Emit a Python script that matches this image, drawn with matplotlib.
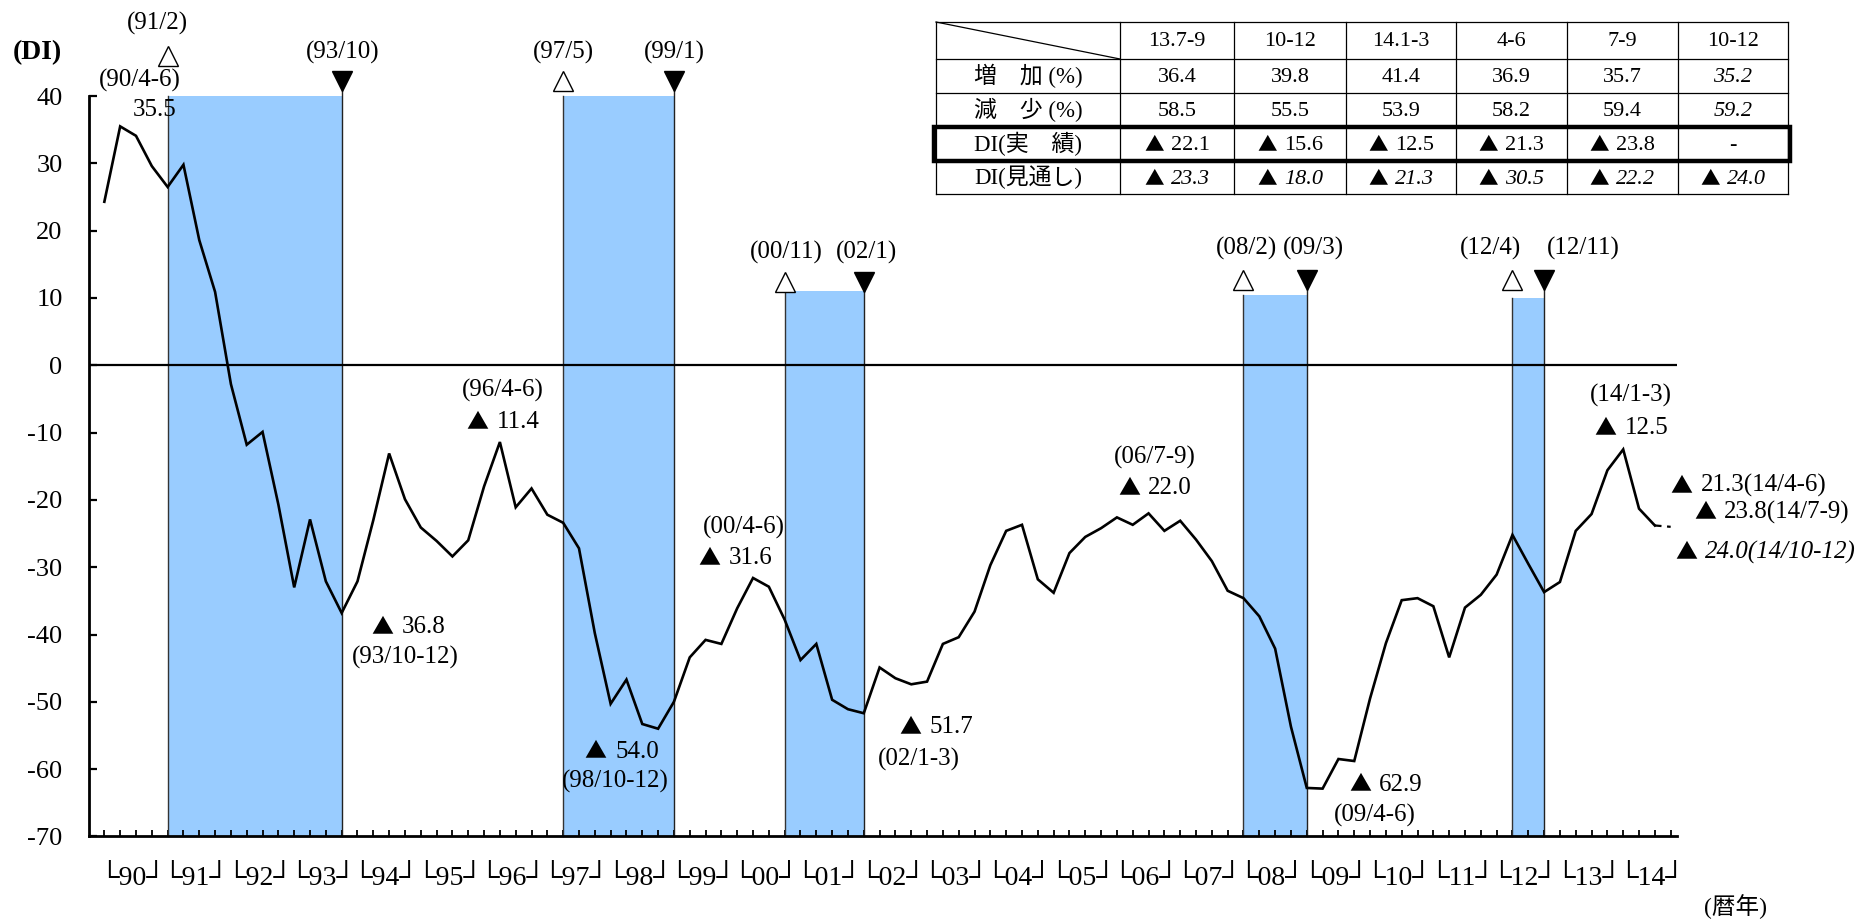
import matplotlib
matplotlib.use("Agg")
import matplotlib.pyplot as plt
import matplotlib.transforms as mtransforms
from matplotlib.patches import Rectangle
from matplotlib.offsetbox import TextArea, HPacker, AnnotationBbox

SERIF = ['Liberation Serif', 'Noto Sans CJK JP', 'DejaVu Sans']
plt.rcParams['font.family'] = SERIF
plt.rcParams['axes.unicode_minus'] = False

# ---------------- data ----------------
start_year = 1990
# quarterly DI, 1990 Q1 .. 2014 Q3 (actual)
di_actual = [
    24.3, 35.5, 34.1, 29.6,            # 1990
    26.5, 29.8, 18.6, 10.9,            # 1991
    -2.8, -11.8, -9.9, -20.7,          # 1992
    -33.0, -22.9, -32.1, -36.8,        # 1993
    -32.1, -23.0, -13.1, -19.9,        # 1994
    -24.1, -26.1, -28.4, -26.0,        # 1995
    -18.0, -11.4, -21.1, -18.3,        # 1996
    -22.2, -23.4, -27.2, -39.8,        # 1997
    -50.3, -46.7, -53.3, -54.0,        # 1998
    -50.0, -43.4, -40.8, -41.4,        # 1999
    -36.1, -31.6, -32.9, -37.8,        # 2000
    -43.8, -41.4, -49.7, -51.1,        # 2001
    -51.7, -44.9, -46.5, -47.4,        # 2002
    -47.0, -41.4, -40.4, -36.6,        # 2003
    -29.7, -24.6, -23.7, -31.8,        # 2004
    -33.8, -27.9, -25.5, -24.2,        # 2005
    -22.6, -23.7, -22.0, -24.6,        # 2006
    -23.1, -25.9, -29.1, -33.5,        # 2007
    -34.6, -37.3, -42.1, -53.7,        # 2008
    -62.8, -62.9, -58.5, -58.8,        # 2009
    -49.5, -41.3, -34.9, -34.6,        # 2010
    -35.8, -43.4, -36.0, -34.1,        # 2011
    -31.1, -25.2, -29.5, -33.7,        # 2012
    -32.2, -24.6, -22.1, -15.6,        # 2013
    -12.5, -21.3, -23.8,               # 2014
]
di_forecast = -24.0                    # 2014 Q4 (forecast)

years = list(range(1990, 2015))
year_labels = ["└%02d┘" % (y % 100) for y in years]
quarter_months = ['1-3', '4-6', '7-9', '10-12']

# recession periods (peak / trough, year & month)
rec_start = [(1991, 2), (1997, 5), (2000, 11), (2008, 2), (2012, 4)]
rec_end = [(1993, 10), (1999, 1), (2002, 1), (2009, 3), (2012, 11)]
shade_top = [40, 40, 11, 10.5, 10]

# table
tab_cols = ['13.7-9', '10-12', '14.1-3', '4-6', '7-9', '10-12']
tab_rows = ['増　加 (%)', '減　少 (%)', 'DI(実　績)', 'DI(見通し)']
tab_increase = [36.4, 39.8, 41.4, 36.9, 35.7, 35.2]
tab_decrease = [58.5, 55.5, 53.9, 58.2, 59.4, 59.2]
tab_di_actual = [-22.1, -15.6, -12.5, -21.3, -23.8, None]
tab_di_outlook = [-23.3, -18.0, -21.3, -30.5, -22.2, -24.0]


def qidx(y, m):
    return (y - start_year) * 4 + (m - 1) // 3


def qlabel(i):
    return "(%02d/%s)" % ((start_year + i // 4) % 100, quarter_months[i % 4])


def tri_box(target, xy, v, size, suffix='', italic=False, tri_scale=0.88, sep=4):
    """Draw '▲ value' (negative value shown with a black triangle)."""
    style = 'italic' if italic else 'normal'
    parts = []
    if v < 0:
        parts.append(TextArea("▲", textprops=dict(fontsize=size * tri_scale,
                                                   family='Noto Sans CJK JP')))
        txt = "%.1f%s" % (abs(v), suffix)
    else:
        txt = "%.1f%s" % (v, suffix)
    parts.append(TextArea(txt, textprops=dict(fontsize=size, family=SERIF, style=style)))
    box = HPacker(children=parts, align='baseline', pad=0, sep=sep)
    ab = AnnotationBbox(box, xy, frameon=False, box_alignment=(0.5, 0.5),
                        annotation_clip=False, pad=0, zorder=7)
    target.add_artist(ab)


# ---------------- figure ----------------
W, H = 1858, 919
fig = plt.figure(figsize=(W / 100, H / 100), dpi=100)
ax = fig.add_axes([89 / W, 1 - 836.4 / H, (1677 - 89) / W, (836.4 - 96.1) / H])

n = len(di_actual)
xs = list(range(n))

# recession shading
for (sy, sm), (ey, em), top in zip(rec_start, rec_end, shade_top):
    s, e = qidx(sy, sm), qidx(ey, em)
    ax.fill_between([s, e], -70, top, color='#99CCFF', lw=0, zorder=1)

# line
ax.plot(xs, di_actual, color='black', lw=1.9, zorder=4, solid_joinstyle='miter')
ax.plot([n - 1, n], [di_actual[-1], di_forecast], color='black', lw=1.6,
        ls=(0, (3, 2.5)), zorder=4)

ax.axhline(0, color='black', lw=1.6, zorder=3)

ax.set_xlim(-0.97, 99.4)
ax.set_ylim(-70, 40)
for sp in ['top', 'right']:
    ax.spines[sp].set_visible(False)
ax.spines['left'].set_linewidth(2.0)
ax.spines['bottom'].set_linewidth(2.0)
ax.spines['left'].set_zorder(5)
ax.spines['bottom'].set_zorder(5)

yt = list(range(-70, 41, 10))
ax.set_yticks(yt)
ax.set_yticklabels([str(v) for v in yt])
ax.tick_params(axis='y', direction='in', length=6, width=1.6, pad=19, labelsize=19)
ax.set_xticks(range(0, 100))
ax.set_xticklabels([])
ax.tick_params(axis='x', direction='in', length=4.5, width=1.3)

trans = mtransforms.blended_transform_factory(ax.transData, ax.transAxes)
for k, lab in enumerate(year_labels):
    ax.text(4 * k + 1.8, -0.0575, lab, transform=trans, ha='center', va='center',
            fontsize=20)

# recession edges, markers and date labels
fs = 18
tri_lv_start = [46.0, 42.3, 12.4, 12.7, 12.7]
tri_lv_end = [42.3, 42.3, 12.4, 12.7, 12.7]
lab_start = [(3.37, 50.8), (29.0, 46.5), (43.1, 16.8), (72.2, 17.3), (87.6, 17.3)]
lab_end = [(15.06, 46.5), (36.0, 46.5), (48.2, 16.8), (76.4, 17.3), (93.5, 17.3)]
for i, ((sy, sm), (ey, em), top) in enumerate(zip(rec_start, rec_end, shade_top)):
    s, e = qidx(sy, sm), qidx(ey, em)
    ax.plot([s, s], [-70, top], color='#333333', lw=1.0, zorder=2, clip_on=False)
    ax.plot([e, e], [-70, tri_lv_end[i]], color='#222222', lw=1.0, zorder=2, clip_on=False)
    ax.plot([s], [tri_lv_start[i]], marker='^', ms=15, mfc='white', mec='black',
            mew=1.0, clip_on=False, zorder=6)
    ax.plot([e], [tri_lv_end[i]], marker='v', ms=15, mfc='black', mec='black',
            clip_on=False, zorder=6)
    ax.text(*lab_start[i], "(%02d/%d)" % (sy % 100, sm), ha='center', va='center',
            fontsize=fs, clip_on=False)
    ax.text(*lab_end[i], "(%02d/%d)" % (ey % 100, em), ha='center', va='center',
            fontsize=fs, clip_on=False)

# data annotations: (index, date position, value position)
notes = [
    (1, (2.25, 42.3), (3.15, 37.9)),
    (15, (19.0, -43.4), (19.2, -38.9)),
    (25, (25.2, -3.8), (25.2, -8.4)),
    (35, (32.3, -61.9), (32.7, -57.4)),
    (41, (40.4, -24.1), (39.9, -28.6)),
    (48, (51.5, -58.6), (52.6, -53.8)),
    (66, (66.4, -13.7), (66.4, -18.3)),
    (77, (80.3, -66.9), (81.0, -62.3)),
    (96, (96.5, -4.5), (96.5, -9.3)),
]
for i, dpos, vpos in notes:
    ax.text(*dpos, qlabel(i), ha='center', va='center', fontsize=fs, clip_on=False)
    tri_box(ax, vpos, di_actual[i], fs, sep=6)

tri_box(ax, (103.9, -17.9), di_actual[97], fs, suffix=qlabel(97), sep=6)
tri_box(ax, (105.4, -21.8), di_actual[98], fs, suffix=qlabel(98), sep=6)
tri_box(ax, (105.0, -27.8), di_forecast, fs, suffix=qlabel(99), italic=True, sep=6)

fig.text(37 / W, 1 - 53 / H, "(DI)", ha='center', va='center', fontsize=20,
         fontweight='bold')
fig.text(1736 / W, 1 - 907 / H, "(暦年)", ha='center', va='center', fontsize=17)

# ---------------- table ----------------
tax = fig.add_axes([0, 0, 1, 1], zorder=10)
tax.set_xlim(0, W)
tax.set_ylim(H, 0)
tax.axis('off')
tax.patch.set_alpha(0)

cx = [936, 1120, 1234, 1346, 1456, 1567, 1678, 1788]
ry = [22, 59, 93, 127, 161, 194]
for x in cx:
    tax.plot([x, x], [ry[0], ry[-1]], color='black', lw=0.9)
for y in ry:
    tax.plot([cx[0], cx[-1]], [y, y], color='black', lw=0.9)
tax.plot([cx[0], cx[1]], [ry[0], ry[1]], color='black', lw=0.9)
tax.add_patch(Rectangle((934, 127), 1790 - 934, 161 - 127, fill=False,
                        ec='black', lw=3.2))

tfs = 16
for j, c in enumerate(tab_cols):
    tax.text((cx[j + 1] + cx[j + 2]) / 2, (ry[0] + ry[1]) / 2 + 1, c, ha='center',
             va='center', fontsize=tfs)
for r, lab in enumerate(tab_rows):
    tax.text((cx[0] + cx[1]) / 2, (ry[r + 1] + ry[r + 2]) / 2, lab, ha='center',
             va='center', fontsize=16.5)


def cell_xy(r, j):
    return ((cx[j + 1] + cx[j + 2]) / 2, (ry[r + 1] + ry[r + 2]) / 2 + 1)


last = len(tab_cols) - 1
for j in range(len(tab_cols)):
    for r, vals in ((0, tab_increase), (1, tab_decrease)):
        tax.text(*cell_xy(r, j), "%.1f" % vals[j], ha='center', va='center',
                 fontsize=tfs, style='italic' if j == last else 'normal')
    v = tab_di_actual[j]
    if v is None:
        tax.text(*cell_xy(2, j), "-", ha='center', va='center', fontsize=tfs)
    else:
        tri_box(tax, cell_xy(2, j), v, tfs, sep=5)
    tri_box(tax, cell_xy(3, j), tab_di_outlook[j], tfs, italic=True, sep=5)

fig.savefig("out.png", dpi=100)
